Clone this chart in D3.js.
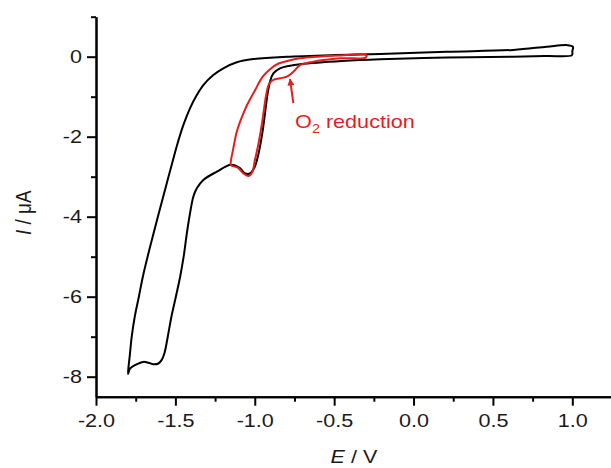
<!DOCTYPE html>
<html>
<head>
<meta charset="utf-8">
<script src="https://cdn.jsdelivr.net/npm/d3@7"></script>
<style>
  html, body { margin: 0; padding: 0; background: #fff; }
  svg { display: block; font-family: "Liberation Sans", Arial, sans-serif; }
</style>
</head>
<body>
<svg id="chart" width="611" height="468"></svg>
<script>
// Cyclic voltammogram over the full window (1.0 V -> -1.8 V -> 1.0 V), black loop
const blackE = [0.998, 0.84, 0.628, 0.21, -0.21, -0.45, -0.715, -0.778, -0.841, -0.883, -0.904, -0.92, -0.935, -0.952, -0.975, -1.0, -1.03, -1.06, -1.095, -1.15,
  -1.239, -1.324, -1.365, -1.387, -1.408, -1.428, -1.448, -1.47, -1.497, -1.525, -1.548, -1.568, -1.586, -1.607, -1.639, -1.67, -1.702, -1.754, -1.786, -1.798,
  -1.795, -1.788, -1.775, -1.756, -1.73, -1.705, -1.675, -1.643, -1.605, -1.56, -1.515, -1.485, -1.45, -1.408, -1.365, -1.324, -1.261, -1.198, -1.113, -1.009, -0.904, -0.798, -0.5, -0.21, 0.21, 0.628, 0.84, 0.966, 1.004, 1.0];
const blackI = [0.04, 0.02, 0.0, -0.02, -0.065, -0.11, -0.19, -0.225, -0.29, -0.415, -0.625, -0.95, -1.4, -1.9, -2.4, -2.75, -2.92, -2.92, -2.78, -2.7,
  -2.875, -3.08, -3.29, -3.5, -3.92, -4.42, -5.0, -5.5, -6.0, -6.5, -7.0, -7.4, -7.58, -7.67, -7.69, -7.65, -7.63, -7.71, -7.8, -7.93,
  -7.75, -7.5, -7.0, -6.5, -6.0, -5.5, -5.0, -4.5, -3.92, -3.25, -2.58, -2.15, -1.71, -1.29, -0.96, -0.71, -0.46, -0.29, -0.14, -0.06, -0.025, 0.0, 0.04, 0.07, 0.125, 0.17, 0.25, 0.29, 0.25, 0.14];

// Narrow window (-0.3 V -> -1.15 V -> -0.3 V), red loop
const redE = [-0.30, -0.463, -0.631, -0.715, -0.757, -0.798, -0.841, -0.883, -0.91, -0.928, -0.943, -0.958, -0.978, -1.0, -1.015, -1.04, -1.074, -1.105, -1.15,
  -1.15, -1.137, -1.115, -1.09, -1.05, -1.0, -0.95, -0.9, -0.85, -0.79, -0.715, -0.609, -0.463, -0.30];
const redI = [-0.02, -0.04, -0.125, -0.21, -0.375, -0.5, -0.54, -0.58, -0.68, -0.95, -1.35, -1.75, -2.2, -2.6, -2.88, -2.98, -2.91, -2.78, -2.71,
  -2.6, -2.33, -1.9, -1.6, -1.22, -0.85, -0.5, -0.3, -0.17, -0.1, -0.04, 0.0, 0.03, 0.05];

// Axis ticks
const xMajorTicks = [-2.0, -1.5, -1.0, -0.5, 0.0, 0.5, 1.0];
const xMinorTicks = [-1.75, -1.25, -0.75, -0.25, 0.25, 0.75, 1.25];
const yMajorTicks = [0, -2, -4, -6, -8];
const yMinorTicks = [1, -1, -3, -5, -7];

// Annotation for the oxygen reduction shoulder
const arrowFrom = [-0.757, -1.16];
const arrowTo = [-0.778, -0.56];
const noteAt = [-0.746, -1.78];

const svg = d3.select("#chart");
const red = "#e41e1e";
const ink = "#1a1a1a";
const fontSize = 18;
const stretch = 1.2; // glyphs are drawn wide

const x = d3.scaleLinear().domain([-2.0, 1.25]).range([96, 612]);
const y = d3.scaleLinear().domain([-8.5, 1.0]).range([396.7, 16.7]);

const fmtX = d => d3.format(".1f")(d).replace("−", "-");
const fmtY = d => d3.format("d")(d).replace("−", "-");

const xMinor = d3.axisBottom(x).tickValues(xMinorTicks).tickSize(5).tickSizeOuter(0).tickFormat("");
const xMajor = d3.axisBottom(x).tickValues(xMajorTicks).tickSize(9).tickSizeOuter(0).tickPadding(9).tickFormat(fmtX);
const yMinor = d3.axisLeft(y).tickValues(yMinorTicks).tickSize(5).tickSizeOuter(0).tickFormat("");
const yMajor = d3.axisLeft(y).tickValues(yMajorTicks).tickSize(9).tickSizeOuter(0).tickPadding(5).tickFormat(fmtY);

function styleAxis(g) {
  g.select(".domain").attr("stroke", "#000").attr("stroke-width", 2);
  g.selectAll(".tick line").attr("stroke", "#000").attr("stroke-width", 2);
  g.selectAll(".tick text").attr("fill", ink).attr("font-size", fontSize)
    .attr("font-family", "'Liberation Sans', Arial, sans-serif");
}

svg.append("g").attr("transform", `translate(0,${y(-8.5)})`).call(xMinor).call(styleAxis);
svg.append("g").attr("transform", `translate(0,${y(-8.5)})`).call(xMajor).call(styleAxis)
  .selectAll(".tick text").attr("transform", `scale(${stretch},1)`);
svg.append("g").attr("transform", `translate(${x(-2.0)},0)`).call(yMinor).call(styleAxis);
svg.append("g").attr("transform", `translate(${x(-2.0)},0)`).call(yMajor).call(styleAxis)
  .selectAll(".tick text").attr("x", -14 / stretch).attr("transform", `scale(${stretch},1)`);

// Axis titles
const xTitle = svg.append("text")
  .attr("transform", `translate(${(x(-2.0) + x(1.25)) / 2},463) scale(${stretch},1)`)
  .attr("text-anchor", "middle").attr("font-size", fontSize).attr("fill", ink);
xTitle.append("tspan").attr("font-style", "italic").text("E");
xTitle.append("tspan").text(" / V");

const yTitle = svg.append("text")
  .attr("transform", `translate(31,${(y(1.0) + y(-8.5)) / 2 + 6}) scale(${stretch},1) rotate(-90)`)
  .attr("text-anchor", "middle").attr("font-size", fontSize + 1).attr("fill", ink);
yTitle.append("tspan").attr("font-style", "italic").text("I");
yTitle.append("tspan").text(" / μA");

// Curves
const loop = d3.line().x(d => x(d[0])).y(d => y(d[1])).curve(d3.curveCatmullRomClosed.alpha(0.5));

const blackPts = blackE.map((e, i) => [e, blackI[i]]);
const redPts = redE.map((e, i) => [e, redI[i]]);

svg.append("path").attr("d", loop(blackPts))
  .attr("fill", "none").attr("stroke", "#000").attr("stroke-width", 2).attr("stroke-linejoin", "round");
svg.append("path").attr("d", loop(redPts))
  .attr("fill", "none").attr("stroke", red).attr("stroke-width", 2).attr("stroke-linejoin", "round");

// Arrow and label
svg.append("defs").append("marker")
  .attr("id", "head").attr("viewBox", "0 0 10 10").attr("refX", 9).attr("refY", 5)
  .attr("markerWidth", 8).attr("markerHeight", 7).attr("markerUnits", "userSpaceOnUse")
  .attr("orient", "auto")
  .append("path").attr("d", "M0,0 L10,5 L0,10 Z").attr("fill", red);

svg.append("line")
  .attr("x1", x(arrowFrom[0])).attr("y1", y(arrowFrom[1]))
  .attr("x2", x(arrowTo[0])).attr("y2", y(arrowTo[1]))
  .attr("stroke", red).attr("stroke-width", 2).attr("marker-end", "url(#head)");

const note = svg.append("text")
  .attr("transform", `translate(${x(noteAt[0])},${y(noteAt[1])}) scale(${stretch},1)`)
  .attr("font-size", fontSize).attr("fill", red);
note.append("tspan").text("O");
note.append("tspan").attr("font-size", 12).attr("dy", 5).text("2");
note.append("tspan").attr("dy", -5).text(" reduction");
</script>
</body>
</html>
